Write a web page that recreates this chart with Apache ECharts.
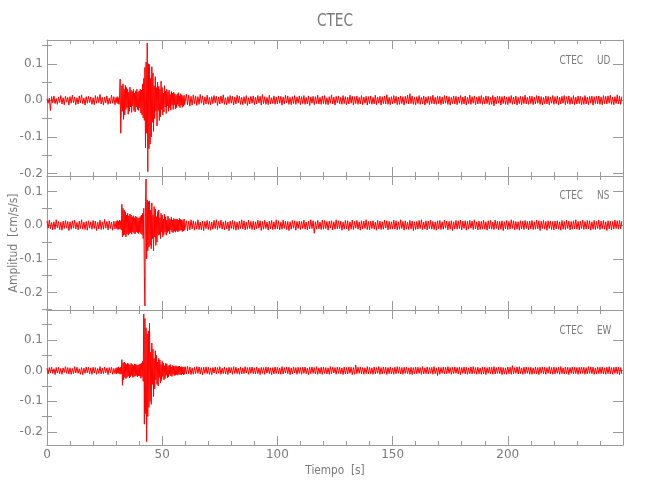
<!DOCTYPE html>
<html>
<head>
<meta charset="utf-8">
<script src="https://cdn.jsdelivr.net/npm/echarts@6/dist/echarts.min.js"></script>
<style>html,body{margin:0;padding:0;background:#fff}#c{width:650px;height:500px}</style>
</head>
<body>
<div id="c"></div>
<script>
// Sampling of the hand-read traces: 0.5 s outside the event window, 0.25 s inside it (30-60 s)
const dtQuiet = 0.5;
const dtEvent = 0.25;
const eventStart = 30;
const postStart = 60;
const title = 'CTEC';
const components = ['UD', 'NS', 'EW'];
const xTicks = [0, 50, 100, 150, 200];
const yRanges = [[-0.207, 0.165], [-0.252, 0.146], [-0.243, 0.198]];
const yMajor = [[-0.2, -0.1, 0, 0.1], [-0.2, -0.1, 0, 0.1], [-0.2, -0.1, 0, 0.1]];
const yMinor = [[-0.15, -0.05, 0.05, 0.15], [-0.25, -0.15, -0.05, 0.05], [-0.15, -0.05, 0.05, 0.15]];

// ---- UD, cm/s/s ----
const udPre = [ // 0-29.5 s, every 0.5 s
.004,-.008,.006,-.028,.01,-.007,.012,-.009,.005,-.011,.009,-.006,.013,-.01,.007,-.012,.011,-.005,.008,-.013,
.01,-.008,.014,-.006,.009,-.012,.007,-.01,.012,-.007,.015,-.009,.006,-.013,.01,-.008,.011,-.006,.009,-.011,
.007,-.012,.013,-.008,.01,-.006,.016,-.01,.008,-.013,.009,-.007,.012,-.011,.006,-.009,.014,-.008,.01,-.012
];
const udEvent = [ // 30-59.75 s, every 0.25 s
.008,-.006,.01,-.009,.007,-.011,.012,.058,-.09,-.094,.04,-.03,.045,-.052,.03,-.04,.041,-.025,.035,-.02,
.03,-.038,.022,-.03,.036,-.018,.028,-.033,.024,-.015,.03,-.028,.02,-.032,.026,-.018,.03,-.025,.022,-.028,
.026,-.02,.03,-.035,.028,-.04,.045,-.048,.06,-.055,.09,-.13,.105,-.09,.157,-.195,.1,-.132,.098,-.12,
.06,-.1,.092,-.06,.075,-.085,.04,-.05,.065,-.03,.035,-.07,.05,-.028,.038,-.055,.03,-.045,.052,-.025,
.035,-.04,.02,-.032,.04,-.018,.025,-.036,.03,-.015,.022,-.03,.028,-.02,.016,-.027,.024,-.013,.02,-.025,
.022,-.012,.018,-.024,.013,-.02,.017,-.011,.021,-.016,.012,-.02,.018,-.013,.015,-.019,.011,-.016,.014,-.012
];
const udPost = [ // 60-249.5 s, every 0.5 s
-.015,.017,-.012,.014,-.016,.011,-.013,.015,-.009,.012,-.014,.01,-.011,.016,-.008,.012,-.013,.009,-.01,.014,
-.011,.008,-.012,.01,-.009,.013,-.007,.011,-.014,.009,-.01,.012,-.008,.015,-.011,.007,-.012,.01,-.009,.013,
-.008,.011,-.013,.009,-.01,.014,-.007,.012,-.011,.008,-.012,.01,-.009,.013,-.014,.007,-.01,.011,-.008,.012,
-.012,.009,-.01,.013,-.007,.011,-.013,.016,-.009,.01,-.011,.008,-.012,.014,-.01,.007,-.009,.012,-.011,.009,
-.01,.012,-.008,.011,-.013,.009,-.01,.014,-.007,.012,-.011,.008,-.012,.01,-.009,.013,-.011,.009,-.008,.012,
-.012,.01,-.009,.013,-.011,.008,-.01,.012,-.014,.009,-.008,.011,-.012,.01,-.009,.014,-.01,.008,-.011,.012,
-.009,.013,-.011,.007,-.012,.01,-.008,.015,-.01,.009,-.013,.011,-.007,.012,-.01,.008,-.011,.013,-.009,.01,
-.012,.009,-.01,.014,-.008,.011,-.013,.01,-.009,.012,-.011,.008,-.01,.013,-.012,.009,-.008,.011,-.013,.01,
-.009,.012,-.011,.008,-.01,.014,-.012,.009,-.008,.011,-.013,.01,-.009,.012,-.01,.015,-.011,.008,-.012,.01,
-.01,.013,-.008,.011,-.012,.009,-.011,.012,-.009,.01,-.013,.011,-.008,.014,-.01,.018,-.009,.012,-.011,.008,
-.012,.01,-.009,.013,-.011,.008,-.01,.012,-.013,.009,-.008,.011,-.012,.01,-.009,.014,-.01,.008,-.011,.012,
-.009,.011,-.012,.009,-.01,.013,-.008,.012,-.011,.01,-.013,.008,-.009,.012,-.01,.011,-.012,.009,-.008,.013,
-.011,.009,-.01,.012,-.013,.008,-.009,.014,-.011,.01,-.008,.012,-.012,.009,-.01,.011,-.009,.013,-.011,.008,
-.01,.012,-.009,.011,-.012,.008,-.011,.013,-.015,.009,-.01,.012,-.008,.011,-.013,.01,-.009,.012,-.011,.009,
-.012,.01,-.008,.013,-.011,.009,-.01,.012,-.013,.008,-.009,.011,-.012,.01,-.009,.014,-.01,.008,-.011,.012,
-.009,.011,-.012,.009,-.01,.013,-.008,.012,-.011,.01,-.013,.008,-.009,.012,-.01,.011,-.012,.009,-.008,.013,
-.011,.01,-.009,.012,-.013,.009,-.01,.011,-.008,.013,-.012,.01,-.009,.012,-.011,.008,-.01,.013,-.012,.009,
-.01,.012,-.009,.011,-.012,.008,-.011,.013,-.01,.009,-.012,.011,-.008,.012,-.013,.01,-.009,.011,-.01,.012,
-.011,.009,-.012,.013,-.009,.011,-.01,.012,-.008,.014,-.011,.009,-.012,.01,-.009,.015,-.01,.012,-.011,.01
];

// ---- NS, cm/s/s ----
const nsPre = [
.012,-.009,.015,-.011,.008,-.014,.01,-.012,.016,-.008,.011,-.013,.009,-.015,.012,-.01,.014,-.009,.011,-.016,
.01,-.012,.013,-.009,.015,-.011,.008,-.014,.012,-.01,.016,-.012,.009,-.013,.011,-.015,.013,-.009,.01,-.012,
.014,-.01,.012,-.016,.009,-.011,.015,-.013,.01,-.012,.017,-.009,.011,-.014,.013,-.01,.009,-.015,.012,-.011
];
const nsEvent = [
.012,-.01,.014,-.013,.011,-.012,.015,-.011,.013,-.014,.062,-.035,.05,-.03,.045,-.028,.04,-.035,.03,-.026,
.035,-.03,.028,-.025,.033,-.022,.03,-.027,.025,-.02,.028,-.024,.022,-.026,.027,-.02,.024,-.022,.02,-.025,
.022,-.02,.026,-.025,.03,-.028,.035,-.04,.05,-.15,-.24,.07,.137,-.1,.075,-.076,.07,-.065,.072,-.06,
.045,-.07,.066,-.04,.03,-.076,.055,-.035,.048,-.06,.025,-.05,.04,-.03,.045,-.028,.022,-.04,.035,-.02,
.03,-.035,.018,-.028,.033,-.02,.025,-.03,.015,-.022,.027,-.018,.02,-.026,.017,-.014,.024,-.02,.015,-.022,
.02,-.018,.017,-.021,.019,-.016,.018,-.02,.015,-.018,.02,-.016,.017,-.015,.016,-.019,.014,-.017,.018,-.015
];
const nsPost = [
-.015,.013,-.017,.012,-.014,.016,-.011,.013,-.015,.01,-.012,.016,-.013,.009,-.014,.012,-.016,.011,-.01,.014,
-.013,.011,-.015,.009,-.012,.014,-.01,.016,-.013,.011,-.009,.015,-.012,.01,-.014,.013,-.011,.009,-.016,.012,
-.01,.014,-.012,.011,-.015,.009,-.013,.012,-.01,.016,-.011,.013,-.014,.009,-.012,.015,-.01,.011,-.013,.012,
-.014,.01,-.011,.015,-.009,.013,-.016,.011,-.012,.014,-.01,.009,-.015,.012,-.011,.014,-.013,.01,-.012,.016,
-.011,.013,-.014,.009,-.012,.015,-.01,.012,-.013,.011,-.016,.01,-.012,.014,-.009,.013,-.015,.011,-.01,.012,
-.013,.011,-.01,.015,-.012,.009,-.014,.012,-.011,.016,-.01,.013,-.024,.01,-.012,.014,-.011,.009,-.013,.015,
-.012,.014,-.01,.011,-.015,.012,-.009,.013,-.014,.01,-.012,.016,-.011,.013,-.01,.012,-.015,.009,-.012,.014,
-.011,.013,-.016,.01,-.012,.015,-.013,.011,-.009,.014,-.012,.01,-.015,.013,-.011,.012,-.01,.016,-.013,.011,
-.014,.012,-.01,.013,-.012,.009,-.015,.014,-.011,.012,-.013,.01,-.012,.015,-.009,.013,-.014,.011,-.012,.01,
-.012,.015,-.011,.013,-.014,.01,-.012,.016,-.01,.011,-.015,.013,-.012,.009,-.013,.014,-.011,.012,-.016,.01,
-.013,.011,-.012,.014,-.01,.016,-.013,.009,-.011,.013,-.014,.012,-.01,.015,-.012,.011,-.013,.01,-.015,.013,
-.011,.014,-.013,.01,-.012,.015,-.009,.012,-.014,.011,-.012,.013,-.016,.01,-.011,.014,-.012,.013,-.01,.015,
-.014,.012,-.01,.013,-.015,.011,-.012,.014,-.009,.012,-.013,.016,-.011,.01,-.014,.012,-.013,.011,-.012,.015,
-.012,.01,-.015,.013,-.011,.014,-.012,.009,-.013,.015,-.01,.012,-.014,.011,-.012,.013,-.016,.01,-.011,.014,
-.013,.011,-.012,.016,-.01,.013,-.014,.011,-.012,.01,-.015,.013,-.011,.012,-.013,.014,-.01,.011,-.014,.012,
-.011,.014,-.013,.01,-.012,.015,-.011,.013,-.016,.012,-.01,.014,-.012,.011,-.015,.013,-.01,.012,-.013,.011,
-.014,.012,-.011,.013,-.012,.01,-.015,.014,-.012,.011,-.013,.015,-.01,.012,-.014,.011,-.012,.013,-.011,.016,
-.012,.011,-.014,.012,-.01,.015,-.013,.011,-.012,.014,-.011,.013,-.015,.01,-.012,.014,-.013,.011,-.01,.015,
-.013,.012,-.011,.014,-.012,.01,-.016,.013,-.011,.012,-.014,.011,-.012,.015,-.01,.013,-.012,.014,-.011,.012
];

// ---- EW, cm/s/s ----
const ewPre = [
.008,-.011,.01,-.007,.012,-.009,.006,-.013,.01,-.008,.011,-.01,.007,-.012,.009,-.006,.013,-.009,.01,-.011,
.009,-.012,.007,-.01,.013,-.008,.011,-.009,.006,-.012,.01,-.013,.008,-.009,.012,-.007,.011,-.01,.009,-.012,
.011,-.008,.01,-.012,.007,-.009,.013,-.011,.008,-.01,.012,-.007,.009,-.013,.01,-.008,.011,-.012,.007,-.01
];
const ewEvent = [
.009,-.011,.01,-.008,.012,-.01,.009,-.012,.011,-.01,.036,-.048,.025,-.03,.028,-.022,.024,-.026,.02,-.022,
.025,-.018,.022,-.024,.018,-.02,.024,-.016,.02,-.022,.017,-.02,.022,-.018,.02,-.016,.019,-.021,.018,-.017,
.02,-.018,.022,-.025,.025,-.02,.03,-.035,.185,-.175,.17,-.14,.14,-.232,.12,-.15,.13,-.12,.155,-.1,
.06,-.11,.09,-.045,.07,-.085,.04,-.06,.065,-.03,.05,-.045,.028,-.05,.04,-.022,.035,-.04,.02,-.032,
.03,-.02,.025,-.03,.016,-.026,.024,-.015,.022,-.024,.014,-.021,.018,-.012,.02,-.017,.012,-.019,.017,-.012,
.015,-.016,.014,-.015,.016,-.013,.013,-.015,.014,-.012,.015,-.013,.012,-.014,.013,-.011,.012,-.013,.011,-.012
];
const ewPost = [
.013,-.011,.014,-.01,.012,-.013,.009,-.012,.011,-.01,.013,-.009,.012,-.011,.01,-.014,.011,-.009,.012,-.01,
.011,-.012,.009,-.013,.01,-.008,.012,-.011,.01,-.009,.013,-.012,.008,-.01,.012,-.011,.009,-.013,.011,-.008,
.01,-.012,.013,-.009,.011,-.01,.008,-.012,.012,-.011,.009,-.01,.013,-.008,.01,-.012,.011,-.009,.012,-.01,
.009,-.011,.012,-.01,.008,-.013,.011,-.009,.01,-.012,.012,-.008,.011,-.01,.009,-.013,.01,-.011,.012,-.009,
.011,-.01,.009,-.012,.013,-.011,.01,-.008,.012,-.01,.011,-.013,.009,-.011,.012,-.008,.01,-.012,.011,-.009,
.01,-.012,.011,-.009,.012,-.01,.008,-.013,.011,-.01,.012,-.009,.01,-.011,.013,-.012,.009,-.01,.011,-.012,
.012,-.009,.01,-.011,.009,-.012,.013,-.01,.011,-.008,.01,-.012,.012,-.009,.011,-.01,.009,-.013,.012,-.011,
.01,-.011,.012,-.009,.011,-.013,.01,-.012,.018,-.01,.011,-.009,.012,-.011,.01,-.012,.009,-.01,.013,-.011,
.011,-.01,.009,-.012,.012,-.011,.01,-.009,.013,-.012,.01,-.011,.012,-.009,.011,-.013,.01,-.01,.012,-.011,
.009,-.012,.011,-.01,.013,-.009,.012,-.011,.01,-.012,.011,-.009,.012,-.01,.009,-.012,.011,-.013,.01,-.011,
.012,-.01,.011,-.009,.01,-.012,.013,-.011,.009,-.01,.012,-.011,.01,-.009,.011,-.012,.013,-.01,.009,-.016,
.011,-.012,.01,-.009,.012,-.011,.011,-.01,.013,-.009,.01,-.012,.011,-.01,.012,-.009,.01,-.011,.012,-.013,
.01,-.009,.012,-.011,.011,-.012,.009,-.01,.012,-.011,.013,-.009,.01,-.012,.011,-.01,.009,-.012,.012,-.011,
.011,-.013,.01,-.009,.012,-.01,.011,-.012,.013,-.011,.01,-.009,.012,-.01,.011,-.013,.01,-.011,.009,-.012,
.012,-.01,.011,-.012,.016,-.011,.01,-.009,.012,-.011,.013,-.01,.009,-.012,.011,-.01,.012,-.009,.01,-.012,
.011,-.012,.009,-.01,.012,-.011,.01,-.013,.011,-.009,.012,-.01,.011,-.012,.01,-.009,.013,-.011,.01,-.012,
.012,-.011,.01,-.009,.011,-.012,.013,-.01,.009,-.011,.012,-.01,.011,-.013,.01,-.009,.012,-.011,.011,-.01,
.01,-.012,.011,-.01,.012,-.009,.011,-.012,.01,-.011,.013,-.009,.012,-.01,.011,-.012,.009,-.011,.012,-.01,
.011,-.01,.012,-.011,.009,-.012,.011,-.01,.013,-.011,.01,-.012,.011,-.009,.012,-.01,.011,-.013,.01,-.011
];

const traces = [[udPre, udEvent, udPost], [nsPre, nsEvent, nsPost], [ewPre, ewEvent, ewPost]];
const toPairs = ([pre, ev, post]) => [].concat(
  pre.map((v, i) => [i * dtQuiet, v]),
  ev.map((v, i) => [eventStart + i * dtEvent, v]),
  post.map((v, i) => [postStart + i * dtQuiet, v])
);

const FONT = "'DejaVu Sans', sans-serif";
const TXT = '#7a7a7a';
const AX = '#9a9a9a';
const tops = [40, 176, 310];
const heights = [136, 134, 135];
const legendY = [61, 196, 331];

const grid = [], xAxis = [], yAxis = [], series = [], graphic = [];
const fmt = v => (Math.abs(v) < 1e-9 ? '0.0' : v.toFixed(1));

for (let g = 0; g < 3; g++) {
  grid.push({ left: 47, right: 27, top: tops[g], height: heights[g], containLabel: false });
  const xBase = {
    gridIndex: g, type: 'value', min: 0, max: 250, interval: 50,
    axisLine: { show: true, onZero: false, lineStyle: { color: AX, width: 1 } },
    axisTick: { show: true, inside: true, length: 9, lineStyle: { color: AX } },
    minorTick: { show: true, splitNumber: 5, length: 4, lineStyle: { color: AX } },
    splitLine: { show: false }, minorSplitLine: { show: false }
  };
  xAxis.push(Object.assign({}, xBase, {
    position: 'bottom',
    axisLabel: { show: g === 2, color: TXT, fontFamily: FONT, fontSize: 12, margin: 4, customValues: xTicks }
  }));
  xAxis.push(Object.assign({}, xBase, { position: 'top', axisLabel: { show: false } }));

  const [mn, mx] = yRanges[g];
  const yBase = { gridIndex: g, type: 'value', min: mn, max: mx, splitLine: { show: false } };
  yAxis.push(Object.assign({}, yBase, {
    position: 'left',
    axisLine: { show: true, onZero: false, lineStyle: { color: AX } },
    axisTick: { show: true, inside: true, length: 10, lineStyle: { color: AX }, customValues: yMajor[g] },
    axisLabel: { show: true, color: TXT, fontFamily: FONT, fontSize: 12, margin: 4,
      customValues: yMajor[g], formatter: fmt }
  }));
  yAxis.push(Object.assign({}, yBase, {
    position: 'left',
    axisLine: { show: false },
    axisTick: { show: true, inside: true, length: 5, lineStyle: { color: AX }, customValues: yMinor[g] },
    axisLabel: { show: false }
  }));
  yAxis.push(Object.assign({}, yBase, {
    position: 'right',
    axisLine: { show: true, onZero: false, lineStyle: { color: AX } },
    axisTick: { show: true, inside: true, length: 10, lineStyle: { color: AX }, customValues: yMajor[g] },
    axisLabel: { show: false }
  }));
  yAxis.push(Object.assign({}, yBase, {
    position: 'right',
    axisLine: { show: false },
    axisTick: { show: true, inside: true, length: 5, lineStyle: { color: AX }, customValues: yMinor[g] },
    axisLabel: { show: false }
  }));

  series.push({
    type: 'line', xAxisIndex: 2 * g, yAxisIndex: 4 * g,
    data: toPairs(traces[g]), showSymbol: false, symbol: 'none', sampling: null,
    lineStyle: { color: '#ff0000', width: 1 }, animation: false, silent: true
  });

  graphic.push({
    type: 'text', x: 583, y: legendY[g], scaleX: 0.74,
    style: { text: title, fill: TXT, font: '12px ' + FONT, textAlign: 'right', textVerticalAlign: 'middle' }
  });
  graphic.push({
    type: 'text', x: 597, y: legendY[g], scaleX: 0.74,
    style: { text: components[g], fill: TXT, font: '12px ' + FONT, textAlign: 'left', textVerticalAlign: 'middle' }
  });
}

graphic.push({
  type: 'text', x: 335, y: 21.5, scaleX: 0.76,
  style: { text: title, fill: TXT, font: '18px ' + FONT, textAlign: 'center', textVerticalAlign: 'middle' }
});
graphic.push({
  type: 'text', x: 14, y: 243, rotation: Math.PI / 2, scaleX: 0.9,
  style: { text: 'Amplitud  [cm/s/s]', fill: TXT, font: '12px ' + FONT, textAlign: 'center', textVerticalAlign: 'middle' }
});
graphic.push({
  type: 'text', x: 335, y: 471, scaleX: 0.88,
  style: { text: 'Tiempo  [s]', fill: TXT, font: '12px ' + FONT, textAlign: 'center', textVerticalAlign: 'middle' }
});

const chart = echarts.init(document.getElementById('c'), null, { renderer: 'canvas' });
chart.setOption({
  backgroundColor: '#ffffff',
  animation: false,
  grid, xAxis, yAxis, series, graphic
});
</script>
</body>
</html>
